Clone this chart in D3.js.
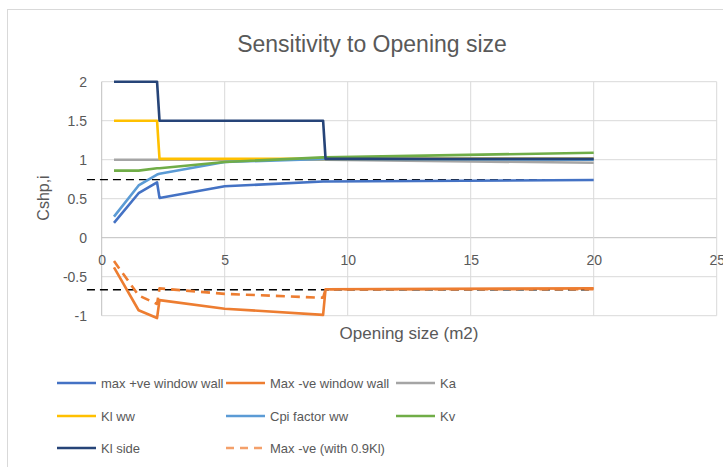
<!DOCTYPE html>
<html>
<head>
<meta charset="utf-8">
<script src="https://cdn.jsdelivr.net/npm/d3@7"></script>
<style>
  body { margin: 0; background: #fff; }
  text { font-family: "Liberation Sans", Arial, sans-serif; fill: #595959; }
</style>
</head>
<body>
<div id="chart"></div>
<script>
// shared x positions (opening size, m2)
const OPENING = [0.5, 1.5, 2.25, 2.35, 5, 9, 9.1, 20];

const MAX_POS_WW   = [0.19, 0.57, 0.71, 0.51, 0.66, 0.72, 0.72, 0.74];
const MAX_NEG_WW   = [-0.38, -0.93, -1.03, -0.80, -0.91, -0.99, -0.66, -0.65];
const KA           = [1.0, 1.0, 1.0, 1.0, 1.0, 1.0, 1.0, 0.96];
const KL_WW        = [1.5, 1.5, 1.5, 1.01, 1.01, 1.01, 1.01, 1.01];
const CPI_WW       = [0.27, 0.67, 0.81, 0.82, 0.97, 1.01, 1.01, 1.0];
const KV           = [0.86, 0.86, 0.89, 0.89, 0.97, 1.03, 1.03, 1.09];
const KL_SIDE      = [2.0, 2.0, 2.0, 1.5, 1.5, 1.5, 1.01, 1.01];
const MAX_NEG_09KL = [-0.30, -0.74, -0.85, -0.65, -0.72, -0.77, -0.66, -0.66];

// black dashed limit lines (no legend entry)
const LIMIT_X = [-0.6, 19.9];
const LIMIT_UPPER = [0.745, 0.745];
const LIMIT_LOWER = [-0.667, -0.667];

const X_TICKS = [0, 5, 10, 15, 20, 25];
const Y_TICKS = [-1, -0.5, 0, 0.5, 1, 1.5, 2];

const SERIES = [
  { name: "max +ve window wall", y: MAX_POS_WW, color: "#4472C4" },
  { name: "Max -ve window wall", y: MAX_NEG_WW, color: "#ED7D31" },
  { name: "Ka", y: KA, color: "#A5A5A5" },
  { name: "Kl ww", y: KL_WW, color: "#FFC000" },
  { name: "Cpi factor ww", y: CPI_WW, color: "#5B9BD5" },
  { name: "Kv", y: KV, color: "#70AD47" },
  { name: "Kl side", y: KL_SIDE, color: "#264478" },
  { name: "Max -ve (with 0.9Kl)", y: MAX_NEG_09KL, color: "#ED7D31", dash: "9,6" }
];

const width = 723, height = 467;
const svg = d3.select("#chart").append("svg")
  .attr("width", width)
  .attr("height", height);

// chart area border
svg.append("rect")
  .attr("x", 7.5).attr("y", 9.5)
  .attr("width", 800).attr("height", 600)
  .attr("fill", "none")
  .attr("stroke", "#D9D9D9");

const x = d3.scaleLinear().domain([0, 25]).range([101.7, 716.7]);
const y = d3.scaleLinear().domain([-1, 2]).range([315.7, 81.7]);

// gridlines
svg.append("g")
  .selectAll("line.h")
  .data(Y_TICKS)
  .enter().append("line")
  .attr("x1", x(0)).attr("x2", x(25))
  .attr("y1", d => y(d)).attr("y2", d => y(d))
  .attr("stroke", d => d === 0 ? "#BFBFBF" : "#D9D9D9")
  .attr("stroke-width", 1);

svg.append("g")
  .selectAll("line.v")
  .data(X_TICKS)
  .enter().append("line")
  .attr("x1", d => x(d)).attr("x2", d => x(d))
  .attr("y1", y(-1)).attr("y2", y(2))
  .attr("stroke", d => d === 0 ? "#BFBFBF" : "#D9D9D9")
  .attr("stroke-width", 1);

// y tick labels
svg.append("g")
  .call(d3.axisLeft(y).tickValues(Y_TICKS).tickSize(0).tickPadding(0)
    .tickFormat(d => String(d)))
  .attr("transform", "translate(87,0)")
  .call(g => g.select(".domain").remove())
  .selectAll("text")
  .style("font-size", "14px")
  .style("font-family", "Liberation Sans, Arial, sans-serif")
  .attr("fill", "#595959");

// x tick labels (axis crosses at y = 0); the last one runs off the edge as in the original
svg.append("g")
  .attr("transform", `translate(0,${y(0) + 17})`)
  .call(d3.axisBottom(x).tickValues(X_TICKS).tickSize(0).tickPadding(0)
    .tickFormat(d => String(d)))
  .call(g => g.select(".domain").remove())
  .selectAll("text")
  .style("font-size", "14px")
  .style("font-family", "Liberation Sans, Arial, sans-serif")
  .attr("fill", "#595959");

const line = d3.line()
  .x(d => x(d[0]))
  .y(d => y(d[1]));

// limit lines
[LIMIT_UPPER, LIMIT_LOWER].forEach(vals => {
  svg.append("path")
    .datum(LIMIT_X.map((v, i) => [v, vals[i]]))
    .attr("d", line)
    .attr("fill", "none")
    .attr("stroke", "#000")
    .attr("stroke-width", 1.3)
    .attr("stroke-dasharray", "8,5");
});

// series
SERIES.forEach(s => {
  svg.append("path")
    .datum(OPENING.map((v, i) => [v, s.y[i]]))
    .attr("d", line)
    .attr("fill", "none")
    .attr("stroke", s.color)
    .attr("stroke-width", 2.6)
    .attr("stroke-linejoin", "round")
    .attr("stroke-dasharray", s.dash || null);
});

// titles
svg.append("text")
  .attr("x", 372).attr("y", 52)
  .attr("text-anchor", "middle")
  .style("font-size", "23px")
  .text("Sensitivity to Opening size");

svg.append("text")
  .attr("x", 409).attr("y", 339)
  .attr("text-anchor", "middle")
  .style("font-size", "17px")
  .text("Opening size (m2)");

svg.append("text")
  .attr("transform", "translate(49,198) rotate(-90)")
  .attr("text-anchor", "middle")
  .style("font-size", "16px")
  .text("Cshp,i");

// legend
const colX = [57, 226, 396];
const rowY = [383, 416, 448];
const leg = svg.append("g")
  .selectAll("g")
  .data(SERIES)
  .enter().append("g")
  .attr("transform", (d, i) => `translate(${colX[i % 3]},${rowY[Math.floor(i / 3)]})`);

leg.append("line")
  .attr("x1", 0).attr("x2", 39)
  .attr("stroke", d => d.dash ? "#F4A06A" : d.color)
  .attr("stroke-width", 2.6)
  .attr("stroke-dasharray", d => d.dash ? "8,6" : null);

leg.append("text")
  .attr("x", 44).attr("y", 5)
  .style("font-size", "13px")
  .text(d => d.name);
</script>
</body>
</html>
